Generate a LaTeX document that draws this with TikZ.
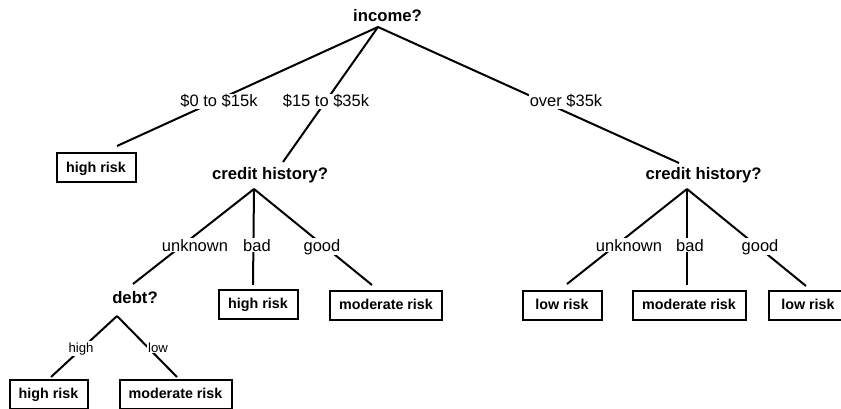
\documentclass[tikz,border=0pt]{standalone}
\usepackage{fontspec}
\setmainfont{Liberation Sans}
\tikzset{
test/.style={font=\fontsize{16.7}{18}\selectfont\bfseries,inner sep=0pt,anchor=base},
leaf/.style={draw,line width=2pt,font=\fontsize{14.3}{16}\selectfont\bfseries,minimum height=29pt,inner sep=0pt,text height=8pt,text depth=0pt},
link/.style={line width=2pt},
split/.style={fill=white,font=\fontsize{16.5}{18}\selectfont,inner sep=1pt,anchor=base},
splitsmall/.style={split,font=\fontsize{13.2}{15}\selectfont}}

\begin{document}
\begin{tikzpicture}[x=1pt,y=-1pt]
\useasboundingbox (0,0) rectangle (841,409);
% questions
\node[test] (income) at (387.5,22) {income?};
\node[test] (credA) at (270,179) {credit history?};
\node[test] (credB) at (703.5,179) {credit history?};
\node[test] (debt) at (135,303) {debt?};
% leaves
\node[leaf,minimum width=79pt] (hrA) at (96,168) {high risk};
\node[leaf,minimum width=79pt] (hrB) at (258,304.5) {high risk};
\node[leaf,minimum width=112pt] (mrB) at (386,305) {moderate risk};
\node[leaf,minimum width=79pt] (lrA) at (562,305) {low risk};
\node[leaf,minimum width=113pt] (mrC) at (689,305) {moderate risk};
\node[leaf,minimum width=79pt] (lrB) at (808,305) {low risk};
\node[leaf,minimum width=78pt] (hrC) at (48.5,394) {high risk};
\node[leaf,minimum width=112pt] (mrA) at (175.5,394) {moderate risk};
% branch points
\coordinate (incFork) at (378,27);
\coordinate (credAFork) at (254,189);
\coordinate (credBFork) at (687,189);
\coordinate (debtFork) at (117,316);
\coordinate (hrAEnd) at (117,146);
\coordinate (credAEnd) at (283,162);
\coordinate (credBEnd) at (679,163);
\coordinate (debtEnd) at (133,284);
\coordinate (hrBEnd) at (253,285);
\coordinate (mrBEnd) at (372,285);
\coordinate (lrAEnd) at (567,284);
\coordinate (mrCEnd) at (687,285);
\coordinate (lrBEnd) at (806,286);
\coordinate (hrCEnd) at (51,377);
\coordinate (mrAEnd) at (177,377);
\draw[link] (incFork)--(hrAEnd);
\draw[link] (incFork)--(credAEnd);
\draw[link] (incFork)--(credBEnd);
\draw[link] (credAFork)--(debtEnd);
\draw[link] (credAFork)--(hrBEnd);
\draw[link] (credAFork)--(mrBEnd);
\draw[link] (credBFork)--(lrAEnd);
\draw[link] (credBFork)--(mrCEnd);
\draw[link] (credBFork)--(lrBEnd);
\draw[link] (debtFork)--(hrCEnd);
\draw[link] (debtFork)--(mrAEnd);
% branch labels
\node[split] (low15) at (219,107) {\$0 to \$15k};
\node[split] (mid35) at (326,107) {\$15 to \$35k};
\node[split] (over35) at (566,107) {over \$35k};
\node[split] (unkA) at (195,251) {unknown};
\node[split] (badA) at (257,251) {bad};
\node[split] (goodA) at (322,251) {good};
\node[split] (unkB) at (629,251) {unknown};
\node[split] (badB) at (690,251) {bad};
\node[split] (goodB) at (760,251) {good};
\node[splitsmall] (highD) at (81,352) {high};
\node[splitsmall] (lowD) at (158,352) {low};
\end{tikzpicture}
\end{document}
